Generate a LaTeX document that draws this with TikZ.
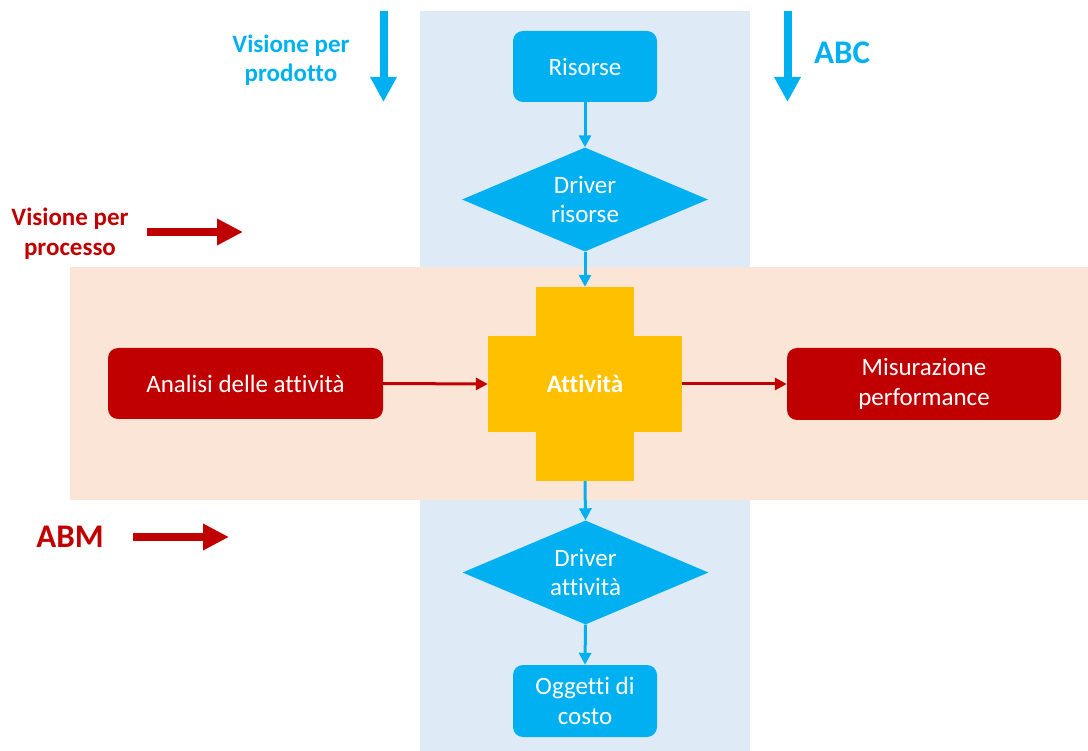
\documentclass[tikz,border=0pt]{standalone}
\usepackage{fontspec}
\setmainfont{Carlito}[Ligatures=NoCommon]
\usetikzlibrary{arrows.meta,shapes.geometric}
\definecolor{cyanc}{HTML}{00B0F0}
\definecolor{colbg}{HTML}{DEEAF6}
\definecolor{bandbg}{HTML}{FBE5D6}
\definecolor{darkred}{HTML}{C00000}
\definecolor{gold}{HTML}{FFC000}
\tikzset{
  txt/.style={font=\fontsize{25}{29.5}\selectfont, text=white, align=center, inner sep=0pt},
  bluebox/.style={txt, fill=cyanc, rounded corners=10pt, minimum width=144pt, minimum height=71pt},
  redbox/.style={txt, fill=darkred, rounded corners=10pt, minimum width=275pt, minimum height=71pt},
  bluedia/.style={txt, fill=cyanc, shape=diamond, aspect=2.34, minimum width=246pt, minimum height=104pt},
  crossbar/.style={fill=gold, inner sep=0pt},
  blueconn/.style={draw=cyanc, line width=3pt, -{Triangle[width=12pt,length=12pt]}},
  redconn/.style={draw=darkred, line width=3pt, -{Triangle[width=12pt,length=12pt]}},
  bigblue/.style={draw=cyanc, line width=8pt, -{Triangle[width=25pt,length=25pt]}},
  bigred/.style={draw=darkred, line width=8pt, -{Triangle[width=25pt,length=26pt]}},
  bluelbl/.style={font=\bfseries\fontsize{25}{29}\selectfont, text=cyanc, align=center, inner sep=0pt},
  redlbl/.style={font=\bfseries\fontsize{25}{30}\selectfont, text=darkred, align=center, inner sep=0pt},
}
\begin{document}
\begin{tikzpicture}[x=1pt,y=-1pt]
\useasboundingbox (0,0) rectangle (1088,751);
% backgrounds
\fill[colbg] (420,11) rectangle (750,751);
\fill[bandbg] (70,267) rectangle (1088,500);
% column nodes
\node[bluebox] (ris) at (585,66.5) {Risorse};
\node[bluedia] (dr) at (585,199.5) {Driver\\risorse};
\node[crossbar, minimum width=98pt, minimum height=194pt] (att) at (585,384) {};
\node[crossbar, minimum width=194pt, minimum height=96pt] (atth) at (585,384) {};
\node[txt, font=\bfseries\fontsize{25}{29}\selectfont] (attl) at (585,384) {Attività};
\node[bluedia] (da) at (585.5,572.5) {Driver\\attività};
\node[bluebox, minimum height=72pt] (ogg) at (585,701) {Oggetti di\\costo};
% row nodes
\node[redbox] (ana) at (245.5,383.5) {Analisi delle attività};
\node[redbox, minimum width=274pt, minimum height=72pt] (mis) at (924,384) {Misurazione\\performance};
% connectors
\draw[blueconn] (ris.south) -- (dr.north);
\draw[blueconn] (dr.south) -- (att.north);
\draw[blueconn] (att.south) -- (da.north);
\draw[blueconn] (da.south) -- (ogg.north);
\draw[redconn] (ana.east) -- (atth.west);
\draw[redconn] (atth.east) -- (mis.west);
% labels
\node[bluelbl] (vpp) at (291,60) {Visione per\\prodotto};
\node[bluelbl, font=\bfseries\fontsize{33}{36}\selectfont] (abc) at (842,53) {ABC};
\node[redlbl] (vpr) at (70,234) {Visione per\\processo};
\node[redlbl, font=\bfseries\fontsize{33}{36}\selectfont] (abm) at (70,537) {ABM};
% big arrows
\coordinate (b1s) at (383.5,11); \coordinate (b1e) at (383.5,102);
\coordinate (b2s) at (787.5,11); \coordinate (b2e) at (787.5,102);
\coordinate (r1s) at (147,232); \coordinate (r1e) at (243,232);
\coordinate (r2s) at (133,537); \coordinate (r2e) at (229,537);
\draw[bigblue] (b1s) -- (b1e);
\draw[bigblue] (b2s) -- (b2e);
\draw[bigred] (r1s) -- (r1e);
\draw[bigred] (r2s) -- (r2e);
\end{tikzpicture}
\end{document}
